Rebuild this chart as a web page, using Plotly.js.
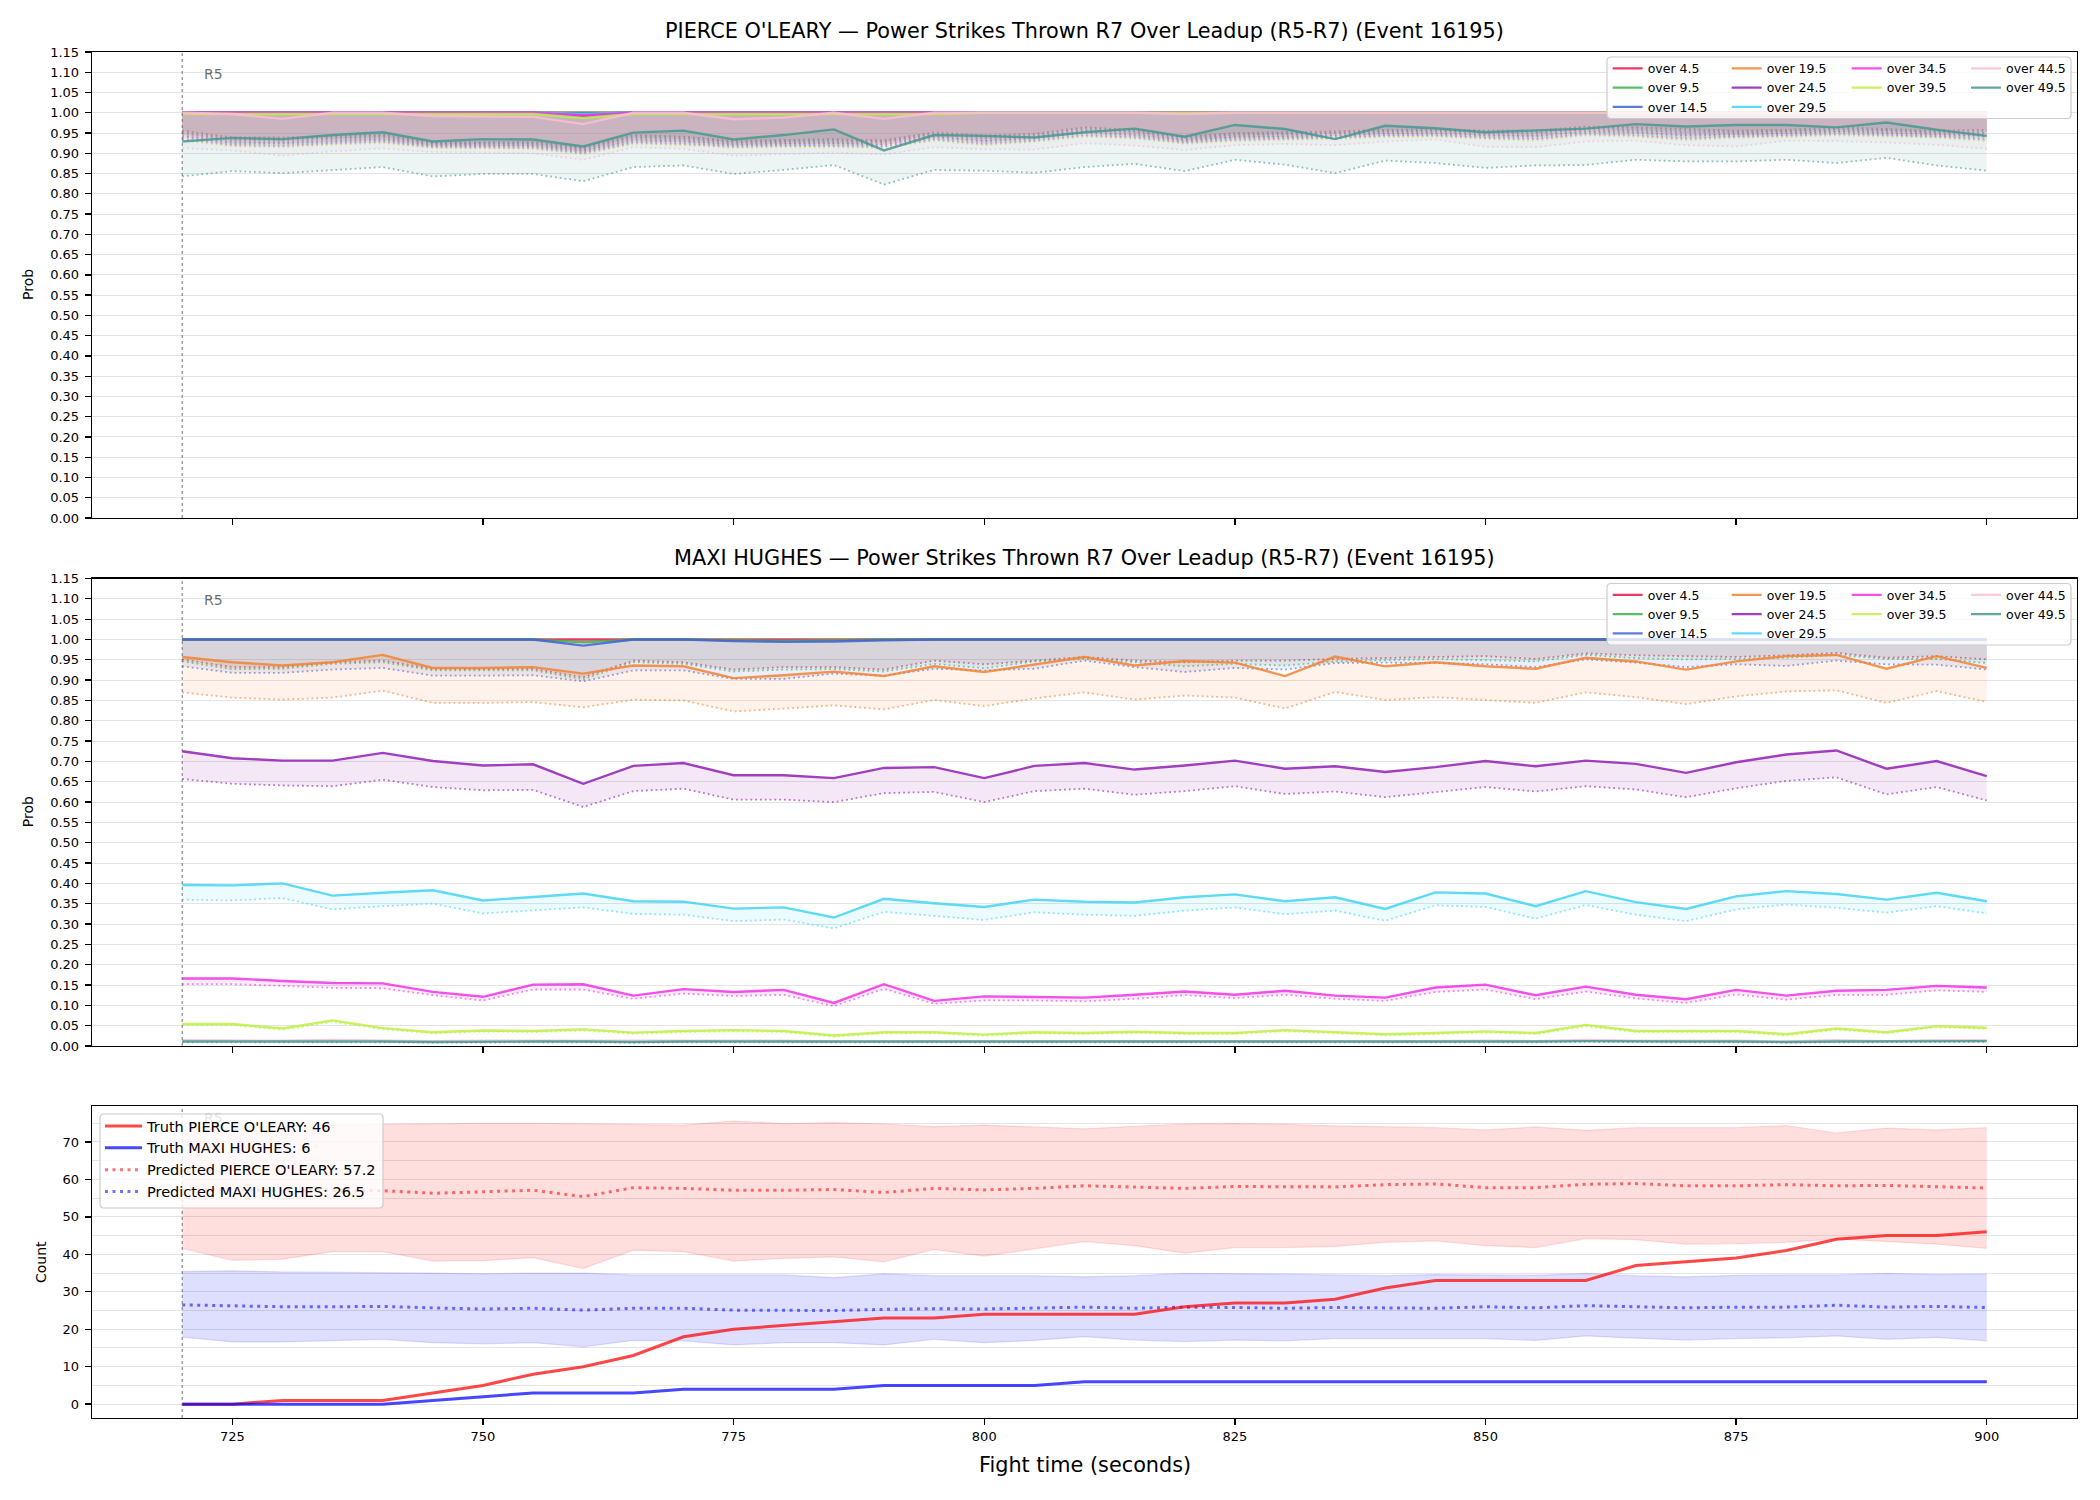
<!DOCTYPE html>
<html>
<head>
<meta charset="utf-8">
<script src="https://cdn.plot.ly/plotly-3.0.1.min.js"></script>
<style>
  html, body { margin: 0; padding: 0; background: #ffffff; }
  #chart { width: 2100px; height: 1500px; }
</style>
</head>
<body>
<div id="chart"></div>
<script>
// ---------------------------------------------------------------------------
// Data: fight time (seconds) and per-threshold probabilities
// ---------------------------------------------------------------------------
const fightTime = [720,725,730,735,740,745,750,755,760,765,
                   770,775,780,785,790,795,800,805,810,815,
                   820,825,830,835,840,845,850,855,860,865,
                   870,875,880,885,890,895,900];

const thresholdLabels = ['over 4.5','over 9.5','over 14.5','over 19.5','over 24.5',
                         'over 29.5','over 34.5','over 39.5','over 44.5','over 49.5'];

// PIERCE O'LEARY — probability (solid) and lower bound (dotted) per threshold
const pierceOver4_5  = [1,1,1,1,1,1,1,1,1,1, 1,1,1,1,1,1,1,1,1,1, 1,1,1,1,1,1,1,1,1,1, 1,1,1,1,1,1,1];
const pierceOver9_5  = [1,1,1,1,1,1,1,1,1,1, 1,1,1,1,1,1,1,1,1,1, 1,1,1,1,1,1,1,1,1,1, 1,1,1,1,1,1,1];
const pierceOver14_5 = [1,1,1,1,1,1,1,1,0.998,1, 1,1,1,1,1,1,1,1,1,1, 1,1,1,1,1,1,1,1,1,1, 1,1,1,1,1,1,1];
const pierceOver19_5 = [1,1,1,1,1,1,1,1,0.996,1, 1,1,1,1,1,1,1,1,1,1, 1,1,1,1,1,1,1,1,1,1, 1,1,1,1,1,1,1];
const pierceOver24_5 = [1,1,1,1,1,1,1,1,0.991,1, 1,1,1,1,1,1,1,1,1,1, 1,1,1,1,1,1,1,1,1,1, 1,1,1,1,1,1,1];
const pierceOver29_5 = [1,1,1,1,1,1,1,1,0.997,1, 1,1,1,1,1,1,1,1,1,1, 1,1,1,1,1,1,1,1,1,1, 1,1,1,1,1,1,1];
const pierceOver34_5 = [1,1,1,1,1,1,1,1,0.994,1, 1,1,1,1,1,1,1,1,1,1, 1,1,1,1,1,1,1,1,1,1, 1,1,1,1,1,1,1];
const pierceOver39_5 = [0.997,0.997,0.997,0.997,0.997,0.997,0.997,0.997,0.987,0.997,
                        0.997,0.997,0.997,0.997,0.996,0.997,1,1,1,1,
                        1,1,1,1,1,1,1,1,1,1, 1,1,1,1,1,1,1];
const pierceOver44_5 = [1,0.997,0.985,1,1,0.992,0.991,0.990,0.972,1,
                        1,0.984,0.988,1,0.985,1,1,1,1,1,
                        0.997,1,1,1,1,1,1,1,1,1, 1,1,1,1,1,1,1];
const pierceOver49_5 = [0.929,0.938,0.935,0.945,0.952,0.929,0.935,0.934,0.917,0.951,
                        0.956,0.934,0.945,0.959,0.907,0.945,0.943,0.939,0.952,0.961,
                        0.941,0.970,0.960,0.935,0.968,0.962,0.952,0.956,0.961,0.972,
                        0.966,0.970,0.970,0.964,0.976,0.958,0.943];

const pierceLow4_5  = [0.956,0.939,0.939,0.943,0.946,0.927,0.928,0.928,0.915,0.945,
                       0.941,0.931,0.933,0.935,0.932,0.952,0.944,0.948,0.964,0.958,
                       0.941,0.950,0.952,0.954,0.958,0.960,0.956,0.956,0.966,0.964,
                       0.960,0.956,0.958,0.964,0.960,0.956,0.958];
const pierceLow9_5  = [0.953,0.936,0.936,0.940,0.943,0.925,0.926,0.926,0.912,0.942,
                       0.938,0.928,0.930,0.932,0.929,0.949,0.941,0.945,0.961,0.955,
                       0.938,0.947,0.949,0.951,0.955,0.957,0.953,0.952,0.963,0.961,
                       0.956,0.953,0.955,0.961,0.957,0.953,0.954];
const pierceLow14_5 = [0.949,0.933,0.932,0.937,0.940,0.923,0.923,0.923,0.910,0.939,
                       0.935,0.926,0.928,0.929,0.927,0.946,0.937,0.942,0.957,0.952,
                       0.936,0.944,0.947,0.949,0.953,0.955,0.950,0.949,0.960,0.957,
                       0.952,0.951,0.953,0.958,0.955,0.951,0.950];
const pierceLow19_5 = [0.946,0.930,0.929,0.934,0.937,0.921,0.921,0.921,0.907,0.936,
                       0.932,0.923,0.925,0.926,0.924,0.943,0.934,0.939,0.954,0.949,
                       0.933,0.941,0.944,0.946,0.950,0.952,0.947,0.945,0.957,0.954,
                       0.948,0.948,0.950,0.955,0.952,0.948,0.946];
const pierceLow24_5 = [0.942,0.926,0.925,0.930,0.934,0.919,0.919,0.918,0.905,0.932,
                       0.929,0.921,0.923,0.924,0.921,0.940,0.930,0.937,0.951,0.945,
                       0.931,0.939,0.941,0.943,0.948,0.949,0.944,0.942,0.953,0.951,
                       0.944,0.946,0.948,0.953,0.949,0.946,0.942];
const pierceLow29_5 = [0.939,0.923,0.922,0.927,0.931,0.917,0.917,0.916,0.902,0.929,
                       0.926,0.918,0.920,0.921,0.918,0.937,0.927,0.934,0.948,0.942,
                       0.928,0.936,0.938,0.940,0.945,0.946,0.941,0.938,0.950,0.948,
                       0.940,0.943,0.945,0.950,0.946,0.943,0.938];
const pierceLow34_5 = [0.935,0.920,0.918,0.924,0.928,0.915,0.914,0.913,0.900,0.926,
                       0.923,0.916,0.918,0.918,0.916,0.934,0.923,0.931,0.944,0.939,
                       0.926,0.933,0.936,0.938,0.943,0.944,0.938,0.935,0.947,0.944,
                       0.936,0.941,0.943,0.947,0.944,0.941,0.934];
const pierceLow39_5 = [0.932,0.917,0.915,0.921,0.925,0.913,0.912,0.911,0.897,0.923,
                       0.920,0.913,0.915,0.915,0.913,0.931,0.920,0.928,0.941,0.936,
                       0.923,0.930,0.933,0.935,0.940,0.941,0.935,0.931,0.944,0.941,
                       0.932,0.938,0.940,0.944,0.941,0.938,0.930];
const pierceLow44_5 = [0.913,0.907,0.894,0.905,0.912,0.903,0.902,0.900,0.884,0.915,
                       0.911,0.894,0.898,0.902,0.897,0.915,0.910,0.909,0.925,0.919,
                       0.908,0.920,0.923,0.920,0.929,0.934,0.916,0.915,0.929,0.931,
                       0.920,0.917,0.931,0.930,0.927,0.921,0.911];
const pierceLow49_5 = [0.843,0.856,0.851,0.858,0.866,0.843,0.849,0.849,0.831,0.866,
                       0.870,0.849,0.859,0.871,0.823,0.859,0.857,0.852,0.866,0.874,
                       0.856,0.884,0.872,0.851,0.882,0.876,0.864,0.870,0.871,0.884,
                       0.880,0.880,0.884,0.876,0.889,0.870,0.857];

// MAXI HUGHES — probability (solid) and lower bound (dotted) per threshold
const maxiOver4_5  = [1,1,1,1,1,1,1,1,1,1, 1,1,1,1,1,1,1,1,1,1, 1,1,1,1,1,1,1,1,1,1, 1,1,1,1,1,1,1];
const maxiOver9_5  = [1,1,1,1,1,1,1,1,0.993,1, 1,0.998,0.997,0.998,1,1,1,1,1,1, 1,1,1,1,1,1,1,1,1,1, 1,1,1,1,1,1,1];
const maxiOver14_5 = [1,1,1,1,1,1,1,1,0.985,1, 1,0.996,0.994,0.995,0.998,1,1,1,1,1, 1,1,1,1,1,1,1,1,1,1, 1,1,1,1,1,1,1];
const maxiOver19_5 = [0.957,0.944,0.936,0.944,0.962,0.930,0.930,0.932,0.916,0.936,
                      0.934,0.905,0.912,0.921,0.910,0.934,0.920,0.939,0.957,0.936,
                      0.947,0.943,0.910,0.958,0.934,0.944,0.934,0.928,0.955,0.946,
                      0.926,0.946,0.959,0.962,0.928,0.959,0.930];
const maxiOver24_5 = [0.725,0.708,0.702,0.702,0.721,0.701,0.690,0.693,0.645,0.689,
                      0.696,0.666,0.666,0.659,0.684,0.686,0.659,0.689,0.696,0.680,
                      0.690,0.702,0.682,0.688,0.674,0.686,0.701,0.688,0.702,0.694,
                      0.672,0.698,0.717,0.727,0.682,0.701,0.664];
const maxiOver29_5 = [0.396,0.395,0.400,0.370,0.377,0.383,0.358,0.366,0.375,0.356,
                      0.355,0.338,0.341,0.316,0.362,0.351,0.342,0.360,0.355,0.353,
                      0.366,0.373,0.356,0.366,0.337,0.378,0.375,0.344,0.381,0.354,
                      0.337,0.368,0.381,0.374,0.360,0.377,0.356];
const maxiOver34_5 = [0.166,0.166,0.160,0.155,0.154,0.133,0.121,0.151,0.152,0.124,
                      0.140,0.133,0.138,0.106,0.152,0.111,0.122,0.121,0.119,0.126,
                      0.134,0.126,0.136,0.124,0.119,0.144,0.151,0.125,0.146,0.126,
                      0.115,0.138,0.124,0.136,0.138,0.148,0.144];
const maxiOver39_5 = [0.054,0.054,0.043,0.063,0.044,0.034,0.038,0.037,0.041,0.033,
                      0.037,0.039,0.037,0.026,0.034,0.034,0.028,0.034,0.032,0.035,
                      0.032,0.032,0.039,0.034,0.029,0.032,0.036,0.032,0.052,0.037,
                      0.037,0.037,0.029,0.043,0.034,0.049,0.045];
const maxiOver44_5 = [0.014,0.014,0.013,0.015,0.013,0.012,0.013,0.013,0.013,0.012,
                      0.013,0.013,0.013,0.011,0.012,0.012,0.011,0.012,0.012,0.012,
                      0.012,0.012,0.013,0.012,0.011,0.012,0.013,0.012,0.015,0.013,
                      0.013,0.013,0.011,0.014,0.012,0.014,0.014];
const maxiOver49_5 = [0.011,0.011,0.011,0.012,0.011,0.010,0.011,0.011,0.011,0.010,
                      0.011,0.011,0.011,0.010,0.011,0.011,0.010,0.011,0.011,0.011,
                      0.011,0.011,0.011,0.011,0.010,0.011,0.011,0.011,0.012,0.011,
                      0.011,0.011,0.010,0.011,0.011,0.012,0.012];

const maxiLow4_5  = [0.951,0.932,0.932,0.944,0.948,0.928,0.927,0.928,0.907,0.948,
                     0.944,0.926,0.932,0.932,0.926,0.948,0.939,0.948,0.957,0.948,
                     0.944,0.948,0.948,0.952,0.955,0.957,0.959,0.952,0.966,0.961,
                     0.959,0.957,0.961,0.967,0.955,0.959,0.951];
const maxiLow9_5  = [0.946,0.927,0.928,0.940,0.944,0.924,0.924,0.924,0.902,0.944,
                     0.940,0.921,0.926,0.927,0.921,0.940,0.929,0.946,0.952,0.944,
                     0.934,0.940,0.936,0.946,0.949,0.952,0.949,0.946,0.962,0.954,
                     0.951,0.952,0.955,0.962,0.952,0.952,0.942];
const maxiLow14_5 = [0.934,0.918,0.918,0.926,0.930,0.911,0.911,0.912,0.897,0.924,
                     0.924,0.903,0.903,0.916,0.911,0.928,0.924,0.928,0.948,0.932,
                     0.920,0.930,0.926,0.942,0.943,0.942,0.939,0.932,0.951,0.943,
                     0.932,0.939,0.935,0.948,0.939,0.938,0.926];
const maxiLow19_5 = [0.870,0.857,0.852,0.857,0.874,0.844,0.844,0.846,0.833,0.852,
                     0.850,0.823,0.830,0.838,0.828,0.851,0.836,0.855,0.870,0.852,
                     0.862,0.857,0.830,0.871,0.851,0.858,0.851,0.844,0.870,0.858,
                     0.841,0.860,0.872,0.875,0.844,0.873,0.846];
const maxiLow24_5 = [0.657,0.645,0.641,0.639,0.655,0.637,0.629,0.630,0.588,0.627,
                     0.633,0.606,0.606,0.600,0.622,0.625,0.600,0.627,0.633,0.618,
                     0.627,0.639,0.620,0.626,0.612,0.625,0.637,0.626,0.639,0.631,
                     0.612,0.634,0.652,0.661,0.619,0.637,0.604];
const maxiLow29_5 = [0.360,0.358,0.364,0.336,0.344,0.350,0.326,0.334,0.341,0.325,
                     0.323,0.307,0.311,0.289,0.330,0.320,0.310,0.329,0.323,0.320,
                     0.333,0.341,0.324,0.333,0.308,0.346,0.342,0.313,0.347,0.323,
                     0.307,0.336,0.348,0.340,0.328,0.344,0.326];
const maxiLow34_5 = [0.152,0.152,0.148,0.143,0.142,0.125,0.112,0.139,0.139,0.116,
                     0.129,0.123,0.126,0.098,0.141,0.104,0.112,0.112,0.110,0.116,
                     0.125,0.118,0.126,0.116,0.111,0.133,0.139,0.115,0.134,0.117,
                     0.106,0.127,0.114,0.126,0.126,0.137,0.133];
const maxiLow39_5 = [0.051,0.051,0.040,0.059,0.041,0.031,0.035,0.034,0.038,0.030,
                     0.034,0.036,0.034,0.023,0.031,0.031,0.025,0.031,0.029,0.032,
                     0.029,0.029,0.036,0.031,0.026,0.029,0.033,0.029,0.048,0.034,
                     0.034,0.034,0.026,0.040,0.031,0.046,0.042];
const maxiLow44_5 = [0.012,0.012,0.011,0.013,0.011,0.010,0.011,0.011,0.011,0.010,
                     0.011,0.011,0.011,0.009,0.010,0.010,0.009,0.010,0.010,0.010,
                     0.010,0.010,0.011,0.010,0.009,0.010,0.011,0.010,0.013,0.011,
                     0.011,0.011,0.009,0.012,0.010,0.012,0.012];
const maxiLow49_5 = [0.009,0.009,0.009,0.010,0.009,0.008,0.009,0.009,0.009,0.008,
                     0.009,0.009,0.009,0.008,0.009,0.009,0.008,0.009,0.009,0.009,
                     0.009,0.009,0.009,0.009,0.008,0.009,0.009,0.009,0.010,0.009,
                     0.009,0.009,0.008,0.009,0.009,0.010,0.010];

// Running counts: truth and model prediction with its interval
const truthPierce = [0,0,1,1,1,3,5,8,10,13, 18,20,21,22,23,23,24,24,24,24,
                     26,27,27,28,31,33,33,33,33,37, 38,39,41,44,45,45,46];
const truthMaxi   = [0,0,0,0,0,1,2,3,3,3, 4,4,4,4,5,5,5,5,6,6,
                     6,6,6,6,6,6,6,6,6,6, 6,6,6,6,6,6,6];
const predPierce  = [57.2,57.3,57.0,57.1,57.0,56.3,56.7,57.1,55.4,57.8,
                     57.6,57.1,57.1,57.3,56.5,57.6,57.2,57.6,58.3,58.0,
                     57.6,58.1,58.1,58.0,58.6,58.8,57.8,57.8,58.7,58.9,
                     58.3,58.3,58.6,58.3,58.4,58.1,57.7];
const predMaxi    = [26.5,26.2,26.0,26.0,26.1,25.7,25.4,25.6,25.1,25.6,
                     25.6,25.1,25.1,25.0,25.3,25.5,25.4,25.7,25.9,25.6,
                     25.9,25.8,25.6,25.8,25.6,25.6,26.0,25.7,26.3,25.9,
                     25.7,25.9,25.9,26.4,25.9,26.1,25.8];
const predPierceHigh = [73.5,74.0,74.3,74.5,74.6,74.7,75.0,75.0,74.8,74.5,
                        74.5,75.6,74.9,75.2,74.8,74.1,74.5,74.0,73.5,74.2,
                        74.8,74.9,74.7,74.3,74.0,73.8,73.2,74.0,73.1,73.8,
                        73.8,73.8,74.4,72.4,73.7,73.2,73.8];
const predPierceLow  = [41.6,38.4,38.7,40.7,40.7,38.2,38.3,39.1,36.2,41.1,
                        40.7,38.2,38.9,39.3,38.0,41.3,39.5,41.4,43.4,42.3,
                        40.3,41.8,41.8,42.1,43.2,43.6,42.3,41.8,44.2,43.9,
                        42.7,42.8,43.2,44.1,43.4,42.7,41.6];
const predMaxiHigh   = [35.4,35.6,35.3,35.1,35.1,35.0,34.8,35.0,35.0,34.5,
                        34.5,34.6,34.5,33.8,34.8,34.3,34.3,34.3,34.0,34.3,
                        34.9,34.9,34.7,34.5,34.3,34.6,34.5,34.4,34.9,34.3,
                        34.0,34.4,34.5,34.5,34.9,34.6,34.7];
const predMaxiLow    = [17.9,16.6,16.6,16.9,17.3,16.4,16.1,16.4,15.3,17.0,
                        16.9,15.8,16.4,16.4,15.8,17.3,16.4,17.0,18.0,17.1,
                        16.7,17.1,16.9,17.5,17.5,17.7,17.5,17.0,18.2,17.6,
                        17.1,17.5,17.7,18.2,17.3,17.8,16.9];

// Final values quoted in the count legend
const truthPierceFinal = 46, truthMaxiFinal = 6;
const predPierceLabel = 57.2, predMaxiLabel = 26.5;

// Axis ticks
const timeTicks  = [725,750,775,800,825,850,875,900];
const probTicks  = [0,0.05,0.10,0.15,0.20,0.25,0.30,0.35,0.40,0.45,0.50,0.55,
                    0.60,0.65,0.70,0.75,0.80,0.85,0.90,0.95,1.00,1.05,1.10,1.15];
const countTicks = [0,10,20,30,40,50,60,70];

// ---------------------------------------------------------------------------
// Styling and geometry
// ---------------------------------------------------------------------------
const FIG_W = 2100, FIG_H = 1500;
const FONT = 'DejaVu Sans, Verdana, sans-serif';
const px2x = p => p / FIG_W;
const px2y = p => 1 - p / FIG_H;

const SERIES_COLORS = ['#e6194b','#3cb44b','#4363d8','#f58231','#911eb4',
                       '#42d4f4','#f032e6','#bfef45','#fabed4','#469990'];

function rgba(hex, a) {
  const n = parseInt(hex.slice(1), 16);
  return `rgba(${(n >> 16) & 255},${(n >> 8) & 255},${n & 255},${a})`;
}

const X_DOMAIN = [px2x(92), px2x(2077)];
const TOP_DOMAIN = [px2y(518), px2y(52)];
const MID_DOMAIN = [px2y(1046), px2y(578.5)];
const BOT_DOMAIN = [px2y(1418), px2y(1106)];

const pierceOver = [pierceOver4_5, pierceOver9_5, pierceOver14_5, pierceOver19_5, pierceOver24_5,
                    pierceOver29_5, pierceOver34_5, pierceOver39_5, pierceOver44_5, pierceOver49_5];
const pierceLow  = [pierceLow4_5, pierceLow9_5, pierceLow14_5, pierceLow19_5, pierceLow24_5,
                    pierceLow29_5, pierceLow34_5, pierceLow39_5, pierceLow44_5, pierceLow49_5];
const maxiOver   = [maxiOver4_5, maxiOver9_5, maxiOver14_5, maxiOver19_5, maxiOver24_5,
                    maxiOver29_5, maxiOver34_5, maxiOver39_5, maxiOver44_5, maxiOver49_5];
const maxiLow    = [maxiLow4_5, maxiLow9_5, maxiLow14_5, maxiLow19_5, maxiLow24_5,
                    maxiLow29_5, maxiLow34_5, maxiLow39_5, maxiLow44_5, maxiLow49_5];

// legend column for each threshold (4 columns, filled top-to-bottom)
const legendColumn = [0,0,0,1,1,1,2,2,3,3];

function probTraces(over, low, xa, ya, legendIds) {
  const out = [];
  thresholdLabels.forEach((label, i) => {
    const c = SERIES_COLORS[i];
    out.push({
      type: 'scatter', mode: 'lines', x: fightTime, y: over[i], xaxis: xa, yaxis: ya,
      name: label, legend: legendIds[legendColumn[i]], legendrank: i + 1,
      line: { color: rgba(c, 0.85), width: 2.4 }, hoverinfo: 'skip'
    });
    out.push({
      type: 'scatter', mode: 'lines', x: fightTime, y: low[i], xaxis: xa, yaxis: ya,
      showlegend: false, fill: 'tonexty', fillcolor: rgba(c, 0.1),
      line: { color: rgba(c, 0.6), width: 1.8, dash: '1.8px,3px' }, hoverinfo: 'skip'
    });
  });
  return out;
}

const traces = [
  ...probTraces(pierceOver, pierceLow, 'x', 'y', ['legend','legend2','legend3','legend4']),
  ...probTraces(maxiOver, maxiLow, 'x2', 'y2', ['legend5','legend6','legend7','legend8']),
  // prediction intervals
  { type: 'scatter', mode: 'lines', x: fightTime, y: predPierceLow, xaxis: 'x3', yaxis: 'y3',
    showlegend: false, line: { color: 'rgba(255,0,0,0.12)', width: 1.2 }, hoverinfo: 'skip' },
  { type: 'scatter', mode: 'lines', x: fightTime, y: predPierceHigh, xaxis: 'x3', yaxis: 'y3',
    showlegend: false, fill: 'tonexty', fillcolor: 'rgba(255,0,0,0.13)',
    line: { color: 'rgba(255,0,0,0.12)', width: 1.2 }, hoverinfo: 'skip' },
  { type: 'scatter', mode: 'lines', x: fightTime, y: predMaxiLow, xaxis: 'x3', yaxis: 'y3',
    showlegend: false, line: { color: 'rgba(0,0,255,0.12)', width: 1.2 }, hoverinfo: 'skip' },
  { type: 'scatter', mode: 'lines', x: fightTime, y: predMaxiHigh, xaxis: 'x3', yaxis: 'y3',
    showlegend: false, fill: 'tonexty', fillcolor: 'rgba(0,0,255,0.13)',
    line: { color: 'rgba(0,0,255,0.12)', width: 1.2 }, hoverinfo: 'skip' },
  // predicted counts
  { type: 'scatter', mode: 'lines', x: fightTime, y: predPierce, xaxis: 'x3', yaxis: 'y3',
    name: `Predicted PIERCE O'LEARY: ${predPierceLabel}`, legend: 'legend9', legendrank: 3,
    line: { color: 'rgba(255,0,0,0.55)', width: 3, dash: '3px,4.5px' }, hoverinfo: 'skip' },
  { type: 'scatter', mode: 'lines', x: fightTime, y: predMaxi, xaxis: 'x3', yaxis: 'y3',
    name: `Predicted MAXI HUGHES: ${predMaxiLabel}`, legend: 'legend9', legendrank: 4,
    line: { color: 'rgba(0,0,255,0.55)', width: 3, dash: '3px,4.5px' }, hoverinfo: 'skip' },
  // truth counts
  { type: 'scatter', mode: 'lines', x: fightTime, y: truthPierce, xaxis: 'x3', yaxis: 'y3',
    name: `Truth PIERCE O'LEARY: ${truthPierceFinal}`, legend: 'legend9', legendrank: 1,
    line: { color: 'rgba(255,0,0,0.72)', width: 3 }, hoverinfo: 'skip' },
  { type: 'scatter', mode: 'lines', x: fightTime, y: truthMaxi, xaxis: 'x3', yaxis: 'y3',
    name: `Truth MAXI HUGHES: ${truthMaxiFinal}`, legend: 'legend9', legendrank: 2,
    line: { color: 'rgba(0,0,255,0.72)', width: 3 }, hoverinfo: 'skip' }
];

// ---------------------------------------------------------------------------
// Axes
// ---------------------------------------------------------------------------
function timeAxis(anchor, showLabels) {
  return {
    domain: X_DOMAIN, anchor: anchor, range: [711, 909], autorange: false,
    tickmode: 'array', tickvals: timeTicks, ticktext: timeTicks.map(String),
    showticklabels: showLabels, ticks: 'outside', ticklen: 6, tickwidth: 1.3, tickcolor: '#000',
    showline: true, mirror: true, linecolor: '#000', linewidth: 1.3,
    showgrid: false, zeroline: false,
    tickfont: { family: FONT, size: 13, color: '#000' }
  };
}

function probAxis(domain, anchor) {
  return {
    domain: domain, anchor: anchor, range: [0, 1.15], autorange: false,
    tickmode: 'array', tickvals: probTicks, ticktext: probTicks.map(v => v.toFixed(2)),
    ticks: 'outside', ticklen: 6, tickwidth: 1.3, tickcolor: '#000', ticklabelstandoff: 3,
    showline: true, mirror: true, linecolor: '#000', linewidth: 1.3,
    showgrid: true, gridcolor: '#e4e4e4', gridwidth: 1, zeroline: false,
    tickfont: { family: FONT, size: 13, color: '#000' }
  };
}

const legendBase = {
  bgcolor: 'rgba(0,0,0,0)', borderwidth: 0, orientation: 'v', traceorder: 'normal',
  xanchor: 'left', yanchor: 'top', itemwidth: 30, tracegroupgap: 0,
  font: { family: FONT, size: 12.5, color: '#000' }
};
const colX = [1607.7, 1726.7, 1846.7, 1966];

function roundRect(x0, y0, x1, y1, r) {
  const X = px2x, Y = px2y;
  return `M${X(x0 + r)},${Y(y0)} L${X(x1 - r)},${Y(y0)} Q${X(x1)},${Y(y0)} ${X(x1)},${Y(y0 + r)} ` +
         `L${X(x1)},${Y(y1 - r)} Q${X(x1)},${Y(y1)} ${X(x1 - r)},${Y(y1)} ` +
         `L${X(x0 + r)},${Y(y1)} Q${X(x0)},${Y(y1)} ${X(x0)},${Y(y1 - r)} ` +
         `L${X(x0)},${Y(y0 + r)} Q${X(x0)},${Y(y0)} ${X(x0 + r)},${Y(y0)} Z`;
}
function legendFrame(x0, y0, x1, y1) {
  return { type: 'path', xref: 'paper', yref: 'paper', layer: 'above',
           path: roundRect(x0, y0, x1, y1, 4),
           fillcolor: 'rgba(255,255,255,0.8)', line: { color: '#cccccc', width: 1.2 } };
}
function roundMarker(xa, ya) {
  return { type: 'line', xref: xa, yref: ya + ' domain', x0: 720, x1: 720, y0: 0, y1: 1,
           layer: 'above', line: { color: 'rgba(90,90,90,0.7)', width: 1.2, dash: 'dot' } };
}

const midX = (X_DOMAIN[0] + X_DOMAIN[1]) / 2;
const titleFont = { family: FONT, size: 20.8, color: '#000' };
const labelFont = { family: FONT, size: 14, color: '#000' };

const layout = {
  width: FIG_W, height: FIG_H,
  margin: { l: 0, r: 0, t: 0, b: 0, pad: 0 },
  paper_bgcolor: '#ffffff', plot_bgcolor: '#ffffff',
  font: { family: FONT, color: '#000' },
  hovermode: false,
  xaxis: timeAxis('y', false),
  xaxis2: timeAxis('y2', false),
  xaxis3: timeAxis('y3', true),
  yaxis: probAxis(TOP_DOMAIN, 'x'),
  yaxis2: probAxis(MID_DOMAIN, 'x2'),
  yaxis3: {
    domain: BOT_DOMAIN, anchor: 'x3', range: [-3.7, 79.6], autorange: false,
    tickmode: 'array', tickvals: countTicks, ticktext: countTicks.map(String),
    ticks: 'outside', ticklen: 6, tickwidth: 1.3, tickcolor: '#000', ticklabelstandoff: 3,
    showline: true, mirror: true, linecolor: '#000', linewidth: 1.3,
    showgrid: true, gridcolor: '#e4e4e4', gridwidth: 1, zeroline: false,
    minor: { tickmode: 'linear', tick0: 5, dtick: 10, showgrid: true, gridcolor: '#e4e4e4', gridwidth: 1, ticks: '' },
    tickfont: { family: FONT, size: 13, color: '#000' }
  },
  legend:  Object.assign({}, legendBase, { x: px2x(colX[0]), y: px2y(53.7) }),
  legend2: Object.assign({}, legendBase, { x: px2x(colX[1]), y: px2y(53.7) }),
  legend3: Object.assign({}, legendBase, { x: px2x(colX[2]), y: px2y(53.7) }),
  legend4: Object.assign({}, legendBase, { x: px2x(colX[3]), y: px2y(53.7) }),
  legend5: Object.assign({}, legendBase, { x: px2x(colX[0]), y: px2y(580.2) }),
  legend6: Object.assign({}, legendBase, { x: px2x(colX[1]), y: px2y(580.2) }),
  legend7: Object.assign({}, legendBase, { x: px2x(colX[2]), y: px2y(580.2) }),
  legend8: Object.assign({}, legendBase, { x: px2x(colX[3]), y: px2y(580.2) }),
  legend9: Object.assign({}, legendBase, {
    x: px2x(100), y: px2y(1110), itemwidth: 37,
    font: { family: FONT, size: 14.5, color: '#000' }
  }),
  shapes: [
    roundMarker('x', 'y'), roundMarker('x2', 'y2'), roundMarker('x3', 'y3'),
    legendFrame(1607, 57, 2071, 118.5),
    legendFrame(1607, 583.5, 2071, 645),
    legendFrame(100, 1114, 383, 1208)
  ],
  annotations: [
    { xref: 'paper', yref: 'paper', x: midX, y: px2y(31), text: "PIERCE O'LEARY — Power Strikes Thrown R7 Over Leadup (R5-R7) (Event 16195)",
      showarrow: false, xanchor: 'center', yanchor: 'middle', font: titleFont },
    { xref: 'paper', yref: 'paper', x: midX, y: px2y(558), text: 'MAXI HUGHES — Power Strikes Thrown R7 Over Leadup (R5-R7) (Event 16195)',
      showarrow: false, xanchor: 'center', yanchor: 'middle', font: titleFont },
    { xref: 'paper', yref: 'paper', x: midX, y: px2y(1465), text: 'Fight time (seconds)',
      showarrow: false, xanchor: 'center', yanchor: 'middle', font: { family: FONT, size: 20.8, color: '#000' } },
    { xref: 'paper', yref: 'paper', x: px2x(28), y: (TOP_DOMAIN[0] + TOP_DOMAIN[1]) / 2, text: 'Prob',
      textangle: -90, showarrow: false, xanchor: 'center', yanchor: 'middle', font: labelFont },
    { xref: 'paper', yref: 'paper', x: px2x(28), y: (MID_DOMAIN[0] + MID_DOMAIN[1]) / 2, text: 'Prob',
      textangle: -90, showarrow: false, xanchor: 'center', yanchor: 'middle', font: labelFont },
    { xref: 'paper', yref: 'paper', x: px2x(41), y: (BOT_DOMAIN[0] + BOT_DOMAIN[1]) / 2, text: 'Count',
      textangle: -90, showarrow: false, xanchor: 'center', yanchor: 'middle', font: labelFont },
    { xref: 'x', yref: 'y', x: 722, y: 1.096, text: 'R5', showarrow: false, xanchor: 'left', yanchor: 'middle',
      font: { family: FONT, size: 14, color: 'rgba(60,60,60,0.75)' } },
    { xref: 'x2', yref: 'y2', x: 722, y: 1.096, text: 'R5', showarrow: false, xanchor: 'left', yanchor: 'middle',
      font: { family: FONT, size: 14, color: 'rgba(60,60,60,0.75)' } },
    // round marker label in the count panel sits behind the semi-opaque legend box
    { xref: 'x3', yref: 'y3', x: 722, y: 76.5, text: 'R5', showarrow: false, xanchor: 'left', yanchor: 'middle',
      font: { family: FONT, size: 14, color: 'rgba(60,60,60,0.15)' } }
  ]
};

Plotly.newPlot('chart', traces, layout, { staticPlot: true, displayModeBar: false });
</script>
</body>
</html>
